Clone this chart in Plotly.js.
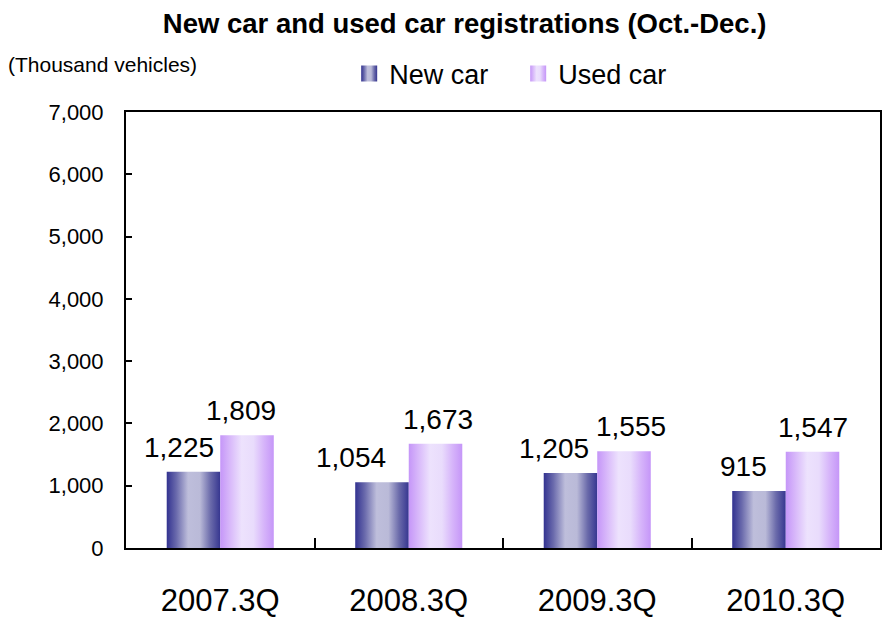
<!DOCTYPE html>
<html><head><meta charset="utf-8">
<script src="https://cdn.plot.ly/plotly-3.0.1.min.js"></script>
<style>html,body{margin:0;padding:0;background:#fff}#chart{width:885px;height:620px}</style>
</head><body><div id="chart"></div>
<script>
const categories = ["2007.3Q", "2008.3Q", "2009.3Q", "2010.3Q"];
const newCar = [1225, 1054, 1205, 915];
const usedCar = [1809, 1673, 1555, 1547];
const seriesNames = ["New car", "Used car"];
const yTicks = [0, 1000, 2000, 3000, 4000, 5000, 6000, 7000];

// style constants
const newLabelShift = [-14, -31, -16, -15];
const usedLabelShift = [-6, 2, 7, 0];
const halfOffset = 0.142;
const fontMain = "Liberation Sans, Arial, sans-serif";

const traces = [
  {type: "bar", name: seriesNames[0], x: categories, y: newCar, marker: {color: "#8a8ac0", line: {width: 0}}, hoverinfo: "y"},
  {type: "bar", name: seriesNames[1], x: categories, y: usedCar, marker: {color: "#dcc4fa", line: {width: 0}}, hoverinfo: "y"}
];

const fmt = v => v.toLocaleString("en-US");
const annotations = [];
newCar.forEach((v, i) => annotations.push({x: i - halfOffset, y: v, xref: "x", yref: "y", text: fmt(v), showarrow: false, yanchor: "bottom", xanchor: "center", yshift: 7, xshift: newLabelShift[i], font: {family: fontMain, size: 28, color: "#000"}}));
usedCar.forEach((v, i) => annotations.push({x: i + halfOffset, y: v, xref: "x", yref: "y", text: fmt(v), showarrow: false, yanchor: "bottom", xanchor: "center", yshift: 7, xshift: usedLabelShift[i], font: {family: fontMain, size: 28, color: "#000"}}));
annotations.push({xref: "paper", yref: "paper", x: -0.159, y: 1.11, xanchor: "left", yanchor: "middle", text: "(Thousand vehicles)", showarrow: false, font: {family: fontMain, size: 21, color: "#000"}});

const layout = {
  width: 885, height: 620,
  margin: {l: 126, r: 5, t: 112, b: 72},
  paper_bgcolor: "#fff", plot_bgcolor: "#fff",
  title: {text: "<b>New car and used car registrations (Oct.-Dec.)</b>", x: 0.525, xanchor: "center", y: 0.963, yanchor: "middle", font: {family: fontMain, size: 27.5, color: "#000"}},
  barmode: "group", bargap: 0.432, bargroupgap: 0,
  showlegend: true,
  legend: {orientation: "h", x: 0.296, xanchor: "left", y: 1.087, yanchor: "middle", font: {family: fontMain, size: 27, color: "#000"}, itemwidth: 30, entrywidth: 124, entrywidthmode: "pixels", tracegroupgap: 0, bgcolor: "rgba(0,0,0,0)"},
  xaxis: {type: "category", showline: true, linecolor: "#000", linewidth: 2, mirror: true, ticks: "inside", ticklen: 10, tickwidth: 2, tickcolor: "#000", tickson: "boundaries", showgrid: false, zeroline: false, tickfont: {family: fontMain, size: 31, color: "#000"}, ticklabelstandoff: 24, fixedrange: true},
  yaxis: {range: [0, 7000], tickvals: yTicks, ticktext: yTicks.map(fmt), showline: true, linecolor: "#000", linewidth: 2, mirror: true, ticks: "inside", ticklen: 6, tickwidth: 2, tickcolor: "#000", showgrid: false, zeroline: false, tickfont: {family: fontMain, size: 22, color: "#000"}, ticklabelstandoff: 16, fixedrange: true},
  annotations: annotations
};

function addGradients(gd) {
  const svg = gd.querySelector(".main-svg");
  let defs = svg.querySelector("defs");
  if (!defs) { defs = document.createElementNS("http://www.w3.org/2000/svg", "defs"); svg.insertBefore(defs, svg.firstChild); }
  const grads = {
    gNew: [["0%", "#323290"], ["18%", "#6a6aac"], ["40%", "#bebedb"], ["62%", "#babad8"], ["82%", "#6a6aaa"], ["100%", "#363690"]],
    gUsed: [["0%", "#c596f8"], ["18%", "#d8b8fa"], ["40%", "#ede2fd"], ["62%", "#e9dcfc"], ["82%", "#d6b4fa"], ["100%", "#c596f8"]]
  };
  Object.keys(grads).forEach(id => {
    const lg = document.createElementNS("http://www.w3.org/2000/svg", "linearGradient");
    lg.setAttribute("id", id); lg.setAttribute("x1", "0"); lg.setAttribute("x2", "1"); lg.setAttribute("y1", "0"); lg.setAttribute("y2", "0");
    grads[id].forEach(s => { const st = document.createElementNS("http://www.w3.org/2000/svg", "stop"); st.setAttribute("offset", s[0]); st.setAttribute("stop-color", s[1]); lg.appendChild(st); });
    defs.appendChild(lg);
  });
  const ids = ["gNew", "gUsed"];
  gd.querySelectorAll(".barlayer .trace").forEach((t, i) => {
    t.querySelectorAll(".point path").forEach(p => { p.style.fill = "url(#" + ids[i] + ")"; });
  });
  gd.querySelectorAll(".legend .traces").forEach((t, i) => {
    t.querySelectorAll(".legendpoints path").forEach(p => { p.setAttribute("d", "M8,8H-8V-8H8Z"); p.style.fill = "url(#" + ids[i] + ")"; p.style.stroke = "none"; });
  });
}

Plotly.newPlot("chart", traces, layout, {displayModeBar: false, staticPlot: true}).then(addGradients);
</script>
</body></html>
